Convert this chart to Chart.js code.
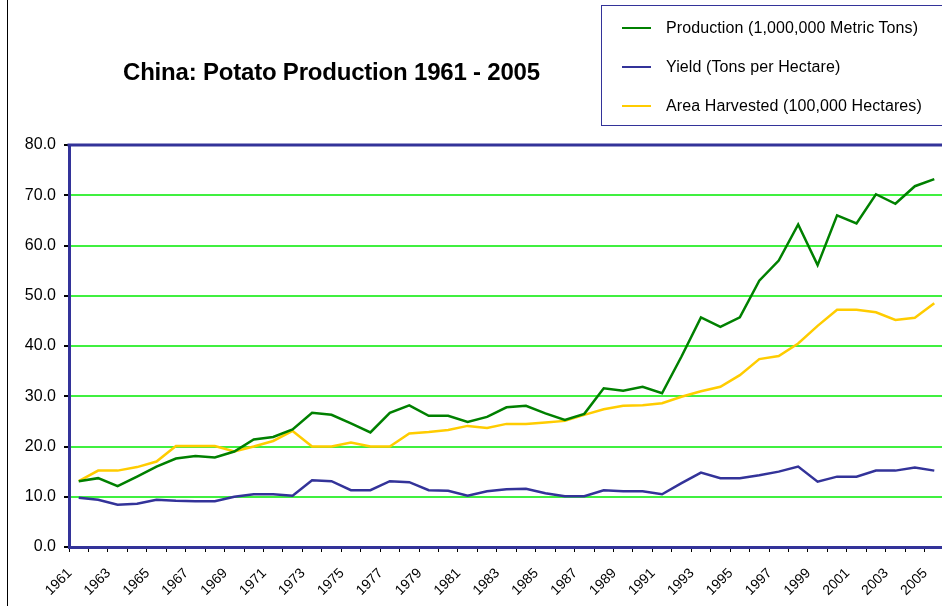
<!DOCTYPE html>
<html>
<head>
<meta charset="utf-8">
<script src="https://cdn.jsdelivr.net/npm/chart.js@4.4.0/dist/chart.umd.min.js"></script>
<style>
    body { margin: 0; overflow: hidden; background: #fff; font-family: "Liberation Sans", Arial, sans-serif; }
    #wrap { position: relative; width: 942px; height: 606px; overflow: hidden; }
    #chartBox { position: absolute; left: 0; top: 0; width: 946px; height: 606px; }
    #frame { position: absolute; left: 7px; top: 0; width: 1px; height: 606px; background: #000; }
    #title { position: absolute; left: 123px; top: 58px; font-size: 24px; font-weight: bold; color: #000; white-space: nowrap; letter-spacing: -0.2px; }
    #legend { position: absolute; left: 601px; top: 5px; width: 345px; height: 121px; border: 1px solid #333399; box-sizing: border-box; }
    .item { position: absolute; left: 0; height: 20px; }
    .item span.swatch { position: absolute; left: 20px; top: 9px; width: 29px; height: 2px; }
    .item span.label { position: absolute; left: 64px; top: 0; font-size: 16px; line-height: 20px; color: #000; white-space: nowrap; letter-spacing: 0.1px; }
</style>
</head>
<body>
<div id="wrap">
    <div id="chartBox"><canvas id="potatoChart" width="946" height="606"></canvas></div>
    <div id="frame"></div>
    <div id="title">China: Potato Production 1961 - 2005</div>
    <div id="legend"></div>
</div>
<script>
const years = [];
for (let y = 1961; y <= 2005; y++) years.push(String(y));

const production = [13.1, 13.7, 12.1, 14.0, 16.0, 17.6, 18.1, 17.8, 19.0, 21.4,
    21.9, 23.4, 26.7, 26.3, 24.6, 22.8, 26.7, 28.2, 26.1, 26.1,
    24.9, 25.9, 27.8, 28.1, 26.6, 25.3, 26.5, 31.6, 31.1, 31.9,
    30.6, 37.9, 45.7, 43.8, 45.7, 53.0, 57.0, 64.2, 56.1, 66.0,
    64.4, 70.2, 68.3, 71.8, 73.2];

const yieldPerHa = [9.8, 9.4, 8.4, 8.6, 9.4, 9.2, 9.1, 9.1, 10.0, 10.5,
    10.5, 10.2, 13.3, 13.1, 11.3, 11.3, 13.1, 12.9, 11.3, 11.2,
    10.2, 11.1, 11.5, 11.6, 10.7, 10.1, 10.1, 11.3, 11.1, 11.1,
    10.5, 12.7, 14.8, 13.7, 13.7, 14.3, 15.0, 16.0, 13.0, 14.0,
    14.0, 15.2, 15.2, 15.8, 15.2];

const areaHarvested = [13.1, 15.2, 15.2, 15.9, 17.0, 20.1, 20.1, 20.1, 19.0, 20.0,
    21.1, 23.1, 20.0, 20.0, 20.8, 20.0, 20.0, 22.6, 22.9, 23.3,
    24.1, 23.7, 24.5, 24.5, 24.8, 25.1, 26.3, 27.4, 28.1, 28.2,
    28.6, 29.9, 31.0, 31.9, 34.2, 37.4, 38.0, 40.5, 44.0, 47.2,
    47.2, 46.7, 45.2, 45.6, 48.5];

const seriesNames = ['Production (1,000,000 Metric Tons)', 'Yield (Tons per Hectare)', 'Area Harvested (100,000 Hectares)'];
const seriesColors = ['#008000', '#333399', '#ffcc00'];
const yTicks = [0, 10, 20, 30, 40, 50, 60, 70, 80];

function buildLegend() {
    const box = document.getElementById('legend');
    const tops = [12, 51, 90];
    seriesNames.forEach(function (name, i) {
        const item = document.createElement('div');
        item.className = 'item';
        item.style.top = tops[i] + 'px';
        item.innerHTML = '<span class="swatch" style="background:' + seriesColors[i] + '"></span>' +
            '<span class="label">' + name + '</span>';
        box.appendChild(item);
    });
}

// blue border along the top of the plot area
const topBorder = {
    id: 'topBorder',
    afterDraw(chart) {
        const a = chart.chartArea;
        const ctx = chart.ctx;
        ctx.save();
        ctx.strokeStyle = '#333399';
        ctx.lineWidth = 3;
        ctx.beginPath();
        ctx.moveTo(a.left - 1.5, a.top);
        ctx.lineTo(a.right + 1.5, a.top);
        ctx.moveTo(a.right, a.top);
        ctx.lineTo(a.right, a.bottom);
        ctx.stroke();
        ctx.restore();
    }
};

function makeDataset(label, data, color) {
    return {
        label: label,
        data: data,
        borderColor: color,
        backgroundColor: color,
        borderWidth: 2.5,
        pointRadius: 0,
        tension: 0,
        fill: false
    };
}

function displayChart() {
    const ctx = document.getElementById('potatoChart').getContext('2d');

    new Chart(ctx, {
        type: 'line',
        data: {
            labels: years,
            datasets: [
                makeDataset(seriesNames[0], production, seriesColors[0]),
                makeDataset(seriesNames[1], yieldPerHa, seriesColors[1]),
                makeDataset(seriesNames[2], areaHarvested, seriesColors[2])
            ]
        },
        options: {
            responsive: false,
            animation: false,
            layout: { padding: { top: 145, left: 0, right: 2, bottom: 0 } },
            plugins: {
                legend: { display: false },
                title: { display: false },
                tooltip: { enabled: false }
            },
            scales: {
                x: {
                    type: 'category',
                    offset: true,
                    afterFit: function (scale) {
                        scale.height = 59;
                        scale.paddingLeft = 0;
                        scale.paddingRight = 0;
                    },
                    grid: {
                        offset: true,
                        drawOnChartArea: false,
                        drawTicks: true,
                        tickLength: 5,
                        tickColor: '#000'
                    },
                    border: { display: true, color: '#333399', width: 3 },
                    ticks: {
                        autoSkip: false,
                        maxRotation: 45,
                        minRotation: 45,
                        padding: 13,
                        labelOffset: -9,
                        color: '#000',
                        font: { family: '"Liberation Sans", Arial, sans-serif', size: 14 },
                        callback: function (value, index) {
                            return index % 2 === 0 ? years[index] : '';
                        }
                    }
                },
                y: {
                    min: 0,
                    max: 80,
                    afterFit: function (scale) { scale.width = 69; },
                    afterBuildTicks: function (scale) {
                        scale.ticks = yTicks.map(function (v) { return { value: v }; });
                    },
                    grid: {
                        color: function (c) {
                            if (c.tick.value === 0 || c.tick.value === 80) return 'rgba(0,0,0,0)';
                            return '#40f040';
                        },
                        lineWidth: 2,
                        drawTicks: true,
                        tickLength: 5,
                        tickColor: '#000'
                    },
                    border: { display: true, color: '#333399', width: 3 },
                    ticks: {
                        padding: 8,
                        color: '#000',
                        font: { family: '"Liberation Sans", Arial, sans-serif', size: 16 },
                        callback: function (value) { return value.toFixed(1); }
                    }
                }
            }
        },
        plugins: [topBorder]
    });
}

buildLegend();
displayChart();
</script>
</body>
</html>
